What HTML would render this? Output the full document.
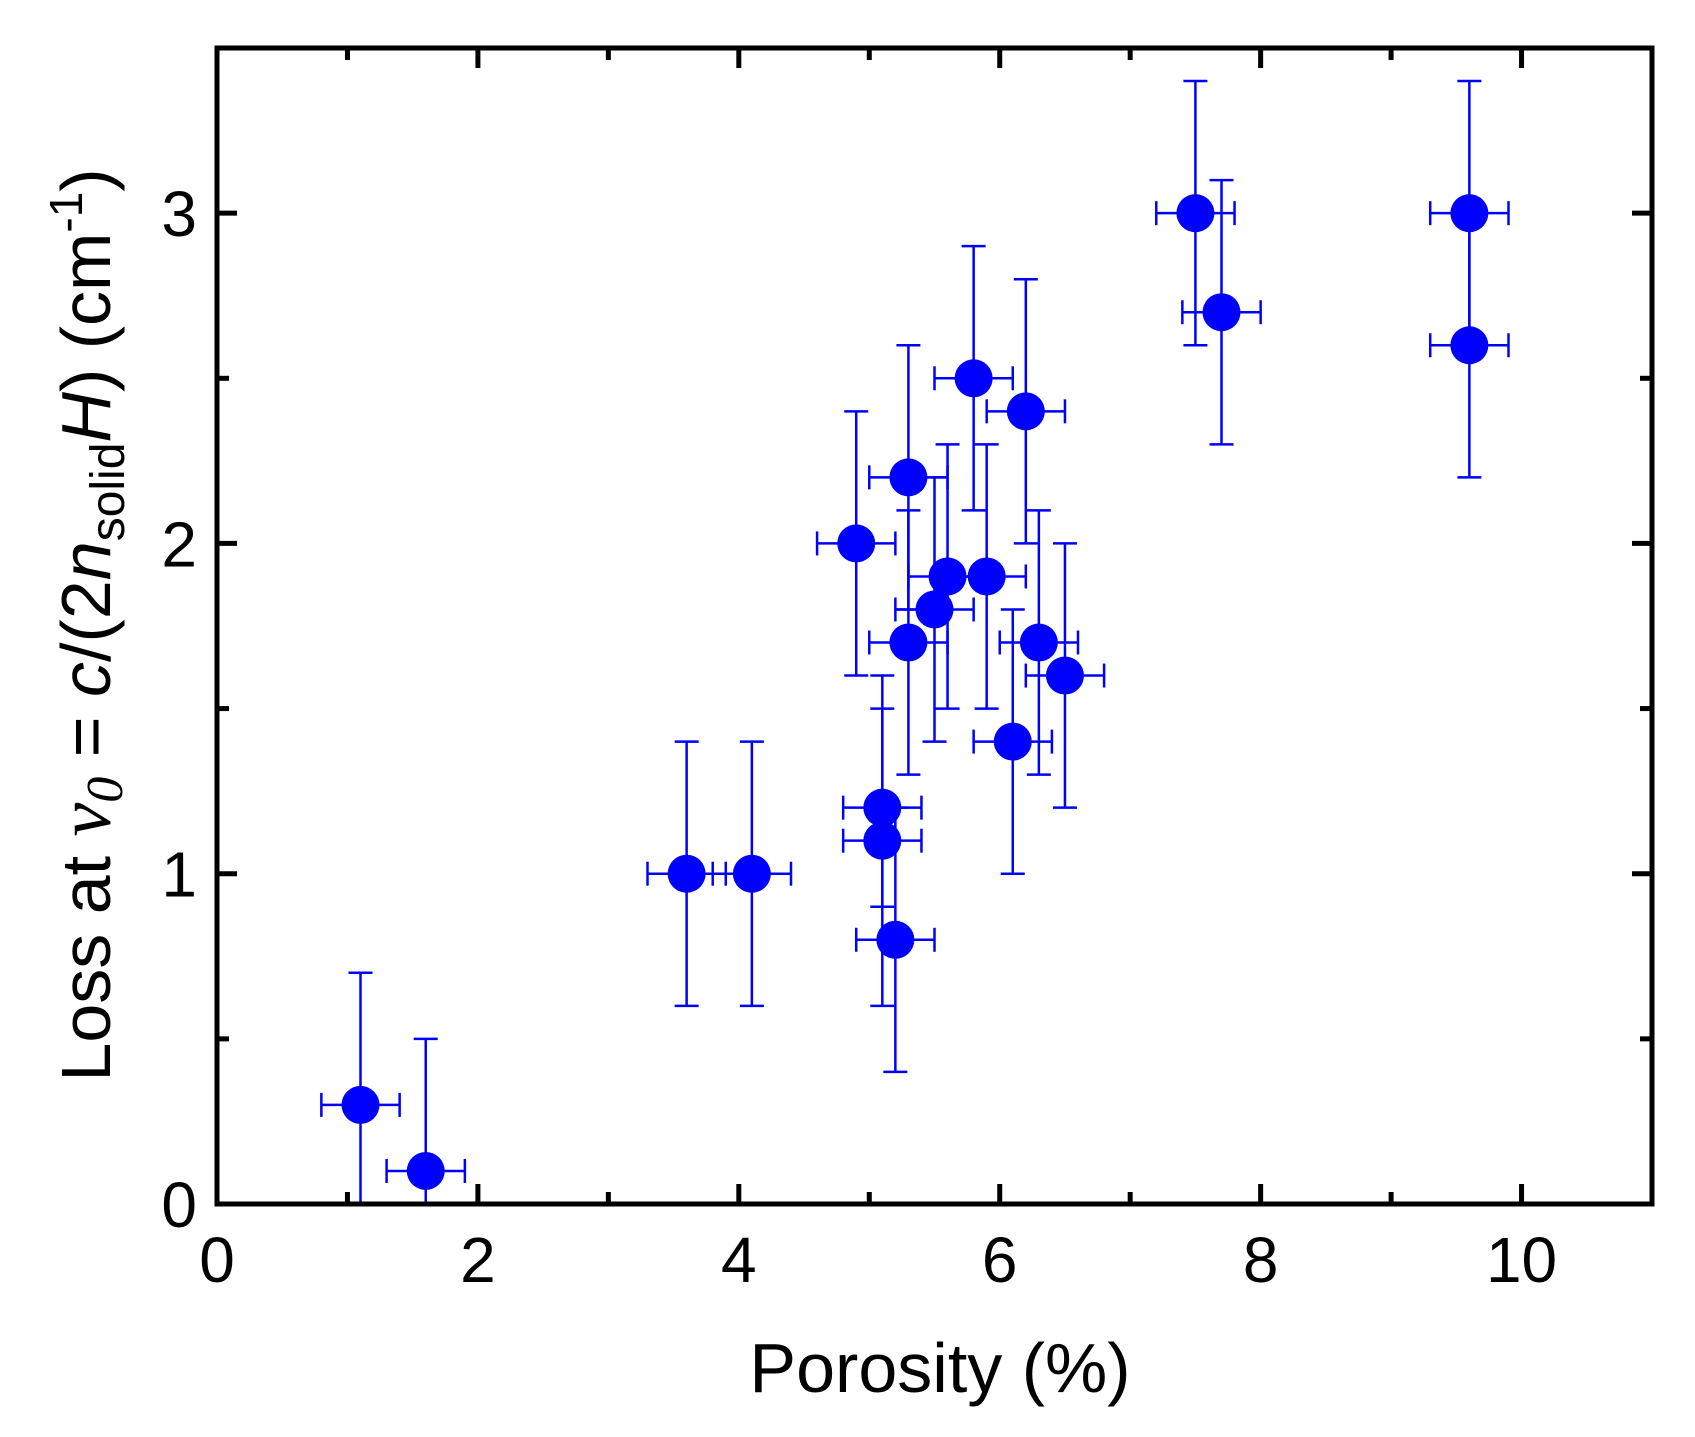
<!DOCTYPE html>
<html><head><meta charset="utf-8"><style>
body{margin:0;background:#fff}
svg{display:block;font-family:"Liberation Sans",sans-serif}
</style></head><body>
<svg id="chart" width="1695" height="1437" viewBox="0 0 1695 1437" xmlns="http://www.w3.org/2000/svg">
<g id="marks"></g>
<g id="axes"></g>
<text x="940" y="1392" font-size="70" text-anchor="middle">Porosity (%)</text>
<text transform="translate(110,625) rotate(-90)" font-size="70" text-anchor="middle">Loss at <tspan font-family="Liberation Serif" font-style="italic" font-size="76">ν<tspan font-size="52" dy="12">0</tspan></tspan><tspan dy="-12"> = </tspan><tspan font-style="italic">c</tspan>/(2<tspan font-style="italic">n</tspan><tspan font-size="48" dy="14">solid</tspan><tspan dy="-14" font-style="italic">H</tspan>) (cm<tspan font-size="46" dy="-28">-1</tspan><tspan dy="28">)</tspan></text>
</svg>
<script>
const xVals=[1.1,1.6,3.6,4.1,4.9,5.1,5.1,5.2,5.3,5.3,5.5,5.6,5.8,5.9,6.1,6.2,6.3,6.5,7.5,7.7,9.6,9.6];
const yVals=[0.3,0.1,1.0,1.0,2.0,1.2,1.1,0.8,2.2,1.7,1.8,1.9,2.5,1.9,1.4,2.4,1.7,1.6,3.0,2.7,3.0,2.6];
const xErr=[0.3,0.3,0.3,0.3,0.3,0.3,0.3,0.3,0.3,0.3,0.3,0.3,0.3,0.3,0.3,0.3,0.3,0.3,0.3,0.3,0.3,0.3];
const yErr=[0.4,0.4,0.4,0.4,0.4,0.3,0.5,0.4,0.4,0.4,0.4,0.4,0.4,0.4,0.4,0.4,0.4,0.4,0.4,0.4,0.4,0.4];
const xTicks=[0,2,4,6,8,10];
const yTicks=[0,1,2,3];
const L=217,R=1652,T=48,B=1204,xMax=11,yMax=3.5;
const X=v=>L+v/xMax*(R-L), Y=v=>B-v/yMax*(B-T);
const NS="http://www.w3.org/2000/svg";
function mk(tag,attrs,parent){const e=document.createElementNS(NS,tag);for(const k in attrs)e.setAttribute(k,attrs[k]);parent.appendChild(e);return e;}
const marks=document.getElementById('marks'), axes=document.getElementById('axes');
const clamp=v=>Math.max(0,v);
for(let i=0;i<xVals.length;i++){
  const g=mk('g',{},marks);
  
  
  const cx=X(xVals[i]),cy=Y(yVals[i]);
  const y1=Y(yVals[i]+yErr[i]),y0=Y(clamp(yVals[i]-yErr[i]));
  const x0=X(xVals[i]-xErr[i]),x1=X(xVals[i]+xErr[i]);
  const st={stroke:'#0000ff','stroke-width':2.5};
  mk('line',Object.assign({x1:cx,x2:cx,y1:y1,y2:y0},st),g);
  mk('line',Object.assign({x1:cx-12,x2:cx+12,y1:y1,y2:y1},st),g);
  if(yVals[i]-yErr[i]>0)mk('line',Object.assign({x1:cx-12,x2:cx+12,y1:y0,y2:y0},st),g);
  mk('line',Object.assign({x1:x0,x2:x1,y1:cy,y2:cy},st),g);
  mk('line',Object.assign({x1:x0,x2:x0,y1:cy-12,y2:cy+12},st),g);
  mk('line',Object.assign({x1:x1,x2:x1,y1:cy-12,y2:cy+12},st),g);
  mk('circle',{cx:cx,cy:cy,r:19,fill:'#0000ff'},g);
}
const ax={stroke:'#000','stroke-width':5,fill:'none'};
mk('rect',Object.assign({x:L,y:T,width:R-L,height:B-T},ax),axes);
for(let v=0;v<=xMax;v++){const maj=v%2===0,len=maj?20:12;
  mk('line',Object.assign({x1:X(v),x2:X(v),y1:B,y2:B-len},ax),axes);
  mk('line',Object.assign({x1:X(v),x2:X(v),y1:T,y2:T+len},ax),axes);}
for(let k=0;k<=yMax*2;k++){const v=k/2,maj=k%2===0,len=maj?20:12;
  mk('line',Object.assign({x1:L,x2:L+len,y1:Y(v),y2:Y(v)},ax),axes);
  mk('line',Object.assign({x1:R,x2:R-len,y1:Y(v),y2:Y(v)},ax),axes);}
xTicks.forEach(v=>{const t=mk('text',{x:X(v),y:B+78,'font-size':64,'text-anchor':'middle'},axes);t.textContent=v;
  
  });
yTicks.forEach(v=>{const t=mk('text',{x:L-20,y:Y(v)+23,'font-size':64,'text-anchor':'end'},axes);t.textContent=v;
  
  });
</script>
</body></html>
